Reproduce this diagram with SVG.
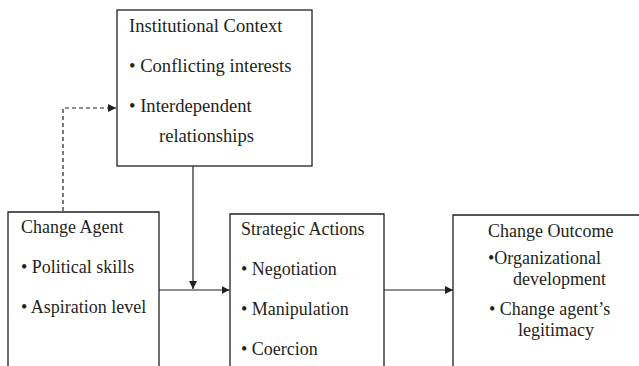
<svg xmlns="http://www.w3.org/2000/svg" width="639" height="366" viewBox="0 0 639 366">
<style>
.box{fill:#fff;stroke:#231f20;stroke-width:1.3}
.t{font-family:"Liberation Serif","Times New Roman",serif;font-size:18px;fill:#231f20}
.big{font-size:18.6px}
.c{fill:none;stroke:#231f20;stroke-width:1.2}
.d{stroke-dasharray:4 3}
</style>
<defs>
<marker id="ah" viewBox="0 0 10 10" refX="10" refY="5" markerWidth="8" markerHeight="8" markerUnits="userSpaceOnUse" orient="auto">
<path d="M0,0 L10,5 L0,10 Z" fill="#231f20"/>
</marker>
</defs>
<rect width="639" height="366" fill="#fff"/>
<g id="connectors">
<polyline class="c d" points="63,211 63,108 116,108" marker-end="url(#ah)"/>
<line class="c" x1="193" y1="166" x2="193" y2="289" marker-end="url(#ah)"/>
<line class="c" x1="159" y1="290" x2="229.5" y2="290" marker-end="url(#ah)"/>
<line class="c" x1="384" y1="290" x2="453" y2="290" marker-end="url(#ah)"/>
</g>
<g id="institutional-context">
<rect class="box" x="117" y="10" width="195" height="156"/>
<text class="t big" x="129" y="32">Institutional Context</text>
<text class="t big" x="129" y="72">• Conflicting interests</text>
<text class="t big" x="129" y="112">• Interdependent</text>
<text class="t big" x="159" y="142">relationships</text>
</g>
<g id="change-agent">
<path class="box" d="M8,370 V212 H159 V370"/>
<text class="t" x="21" y="233">Change Agent</text>
<text class="t" x="21" y="273">• Political skills</text>
<text class="t" x="21" y="313">• Aspiration level</text>
</g>
<g id="strategic-actions">
<path class="box" d="M230,370 V214 H384 V370"/>
<text class="t" x="241" y="235">Strategic Actions</text>
<text class="t" x="241" y="275">• Negotiation</text>
<text class="t" x="241" y="315">• Manipulation</text>
<text class="t" x="241" y="355">• Coercion</text>
</g>
<g id="change-outcome">
<path class="box" d="M453,370 V215 H645"/>
<text class="t" x="488" y="237">Change Outcome</text>
<text class="t" x="488" y="264">•Organizational</text>
<text class="t" x="513" y="285">development</text>
<text class="t" x="489" y="315">• Change agent’s</text>
<text class="t" x="518" y="336">legitimacy</text>
</g>
</svg>
